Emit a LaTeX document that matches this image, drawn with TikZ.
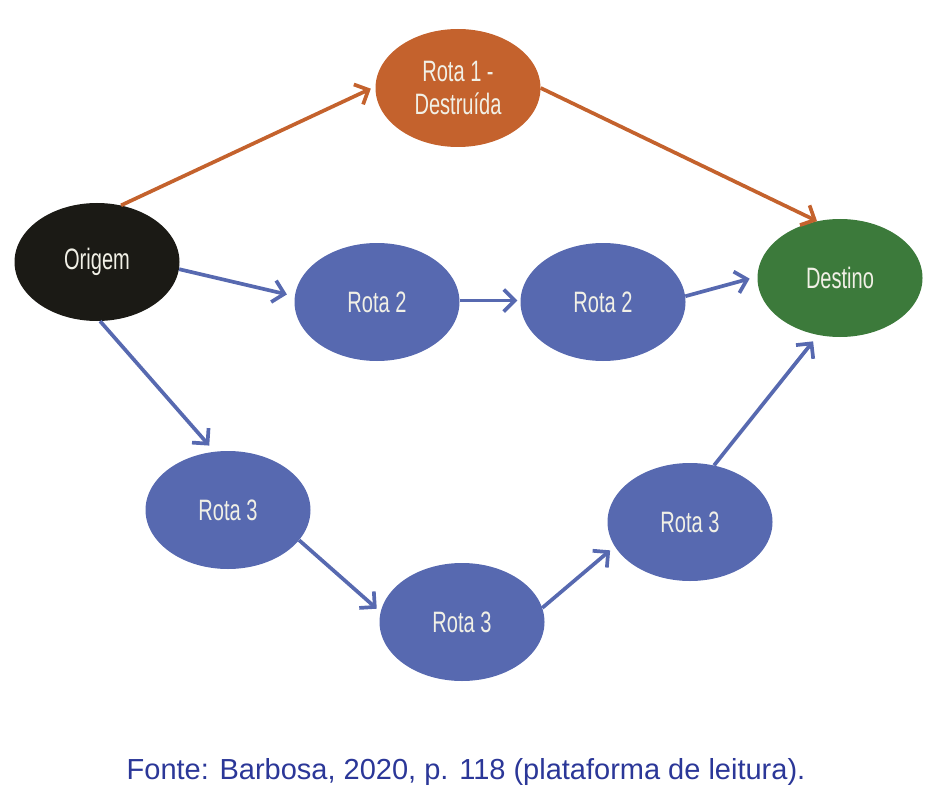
\documentclass[tikz,border=0pt]{standalone}
\usepackage{fontspec}
\setmainfont{Liberation Sans}
\newfontfamily\narrowfont[FakeStretch=0.68]{Liberation Sans}
\usetikzlibrary{shapes.geometric,arrows.meta}
\definecolor{orota}{HTML}{C4622D}
\definecolor{brota}{HTML}{5769B0}
\definecolor{grota}{HTML}{3C7A3B}
\definecolor{korig}{HTML}{1B1A15}
\definecolor{creme}{HTML}{F1F0E6}
\definecolor{fonte}{HTML}{2B3798}

\begin{document}
\begin{tikzpicture}[x=1pt,y=-1pt,
    elip/.style={ellipse,minimum width=165pt,minimum height=118pt,inner sep=0pt,
      text=creme,font=\narrowfont\fontsize{29.5}{33}\selectfont,align=center},
    seta/.style={line width=3.7pt,-{Straight Barb[length=11pt,width=22pt,line width=3.7pt]}}]
      \useasboundingbox (0,0) rectangle (933,802) ;
      \node[elip,fill=korig] (O) at (97,262) {Origem} ;
      \node[elip,fill=orota] (R1) at (458,88) {Rota 1 -\\Destruída} ;
      \node[elip,fill=brota] (R2a) at (377,302) {Rota 2} ;
      \node[elip,fill=brota] (R2b) at (603,302) {Rota 2} ;
      \node[elip,fill=grota] (D) at (840,278) {Destino} ;
      \node[elip,fill=brota] (R3a) at (228,510) {Rota 3} ;
      \node[elip,fill=brota] (R3b) at (462,622) {Rota 3} ;
      \node[elip,fill=brota] (R3c) at (690,522) {Rota 3} ;
      % rota destruida
      \draw[seta,orota,shorten >=5pt] (O.67) -- (R1.179) ;
      \draw[seta,orota] (R1.0) -- (D.112) ;
      % rota 2
      \draw[seta,brota,shorten >=8pt] (O.-5) -- (R2a.176) ;
      \draw[seta,brota,shorten >=3pt] (R2a.1) -- (R2b.179) ;
      \draw[seta,brota,shorten >=8pt] (R2b.4) -- (D.179) ;
      % rota 3
      \draw[seta,brota,shorten >=8pt] (O.-87) -- (R3a.103) ;
      \draw[seta,brota,shorten >=5pt] (R3a.-23) -- (R3b.173) ;
      \draw[seta,brota,shorten >=6pt] (R3b.10) -- (R3c.-162) ;
      \draw[seta,brota,shorten >=8pt] (R3c.67) -- (D.-111) ;
      \node[text=fonte,font=\fontsize{29}{33}\selectfont] (F) at (466,772) {Fonte: Barbosa, 2020, p. 118 (plataforma de leitura).} ;
\end{tikzpicture}
\end{document}
